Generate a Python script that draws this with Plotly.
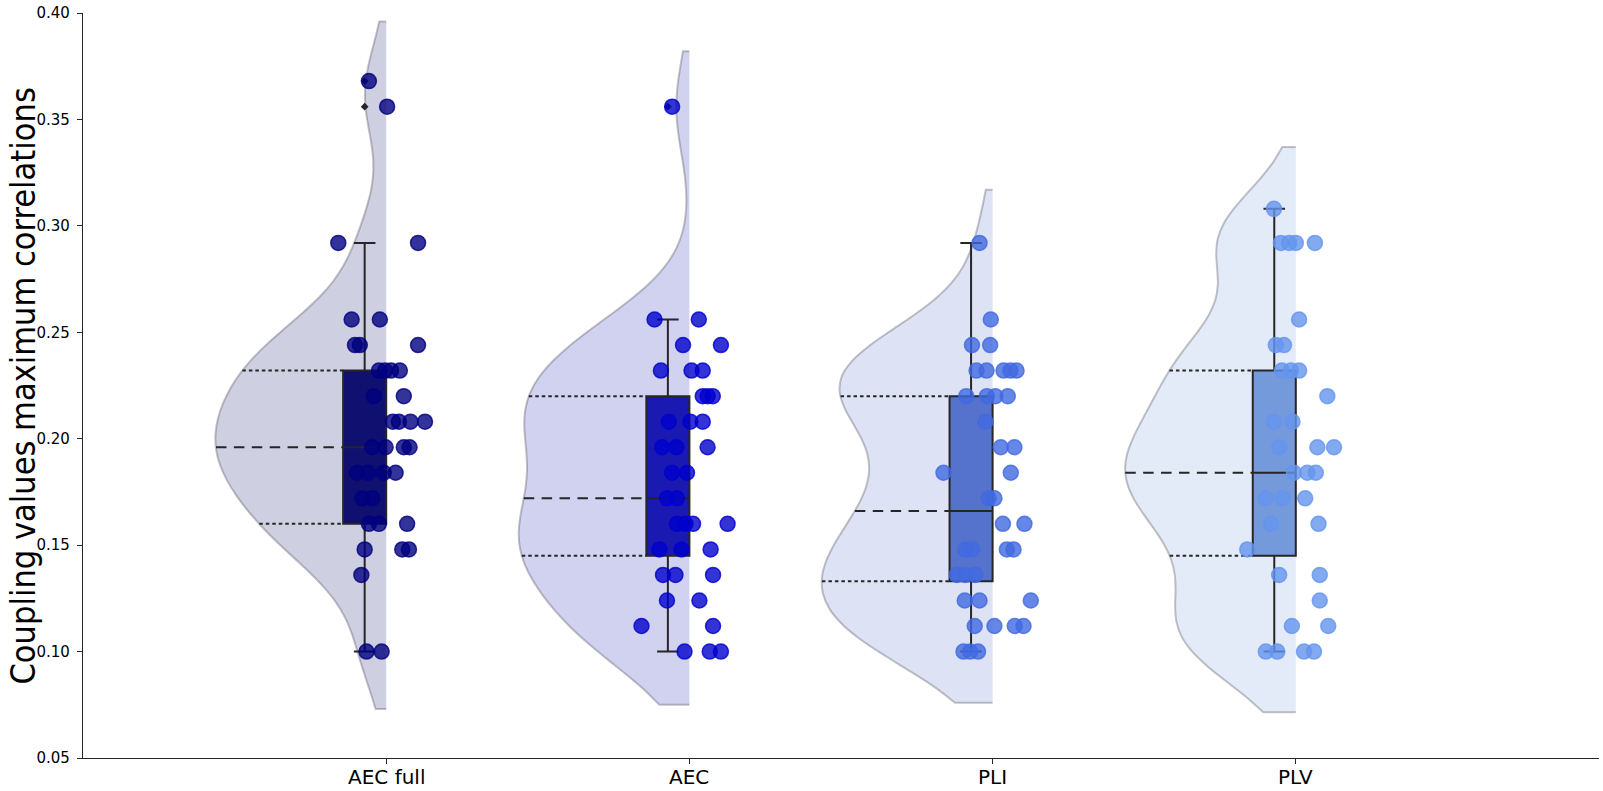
import numpy as np
import plotly.graph_objects as go

categories = ["AEC full", "AEC", "PLI", "PLV"]

aec_full_values = [0.368, 0.356, 0.292, 0.292, 0.256, 0.256, 0.244, 0.244, 0.244,
                   0.232, 0.232, 0.232, 0.232, 0.220, 0.220, 0.208, 0.208, 0.208, 0.208,
                   0.196, 0.196, 0.196, 0.196, 0.184, 0.184, 0.184, 0.184, 0.172, 0.172,
                   0.160, 0.160, 0.160, 0.148, 0.148, 0.148, 0.136, 0.100, 0.100]
aec_full_jitter = [-0.057, 0.003, -0.158, 0.105, -0.114, -0.021, -0.103, -0.087, 0.105,
                   -0.024, -0.004, 0.016, 0.045, -0.041, 0.058, 0.022, 0.042, 0.080, 0.128,
                   -0.046, -0.002, 0.058, 0.077, -0.096, -0.060, -0.008, 0.031, -0.079, -0.046,
                   -0.057, -0.024, 0.069, -0.071, 0.053, 0.075, -0.082, -0.065, -0.015]

aec_values = [0.356, 0.256, 0.256, 0.244, 0.244, 0.232, 0.232, 0.232, 0.220, 0.220, 0.220,
              0.208, 0.208, 0.208, 0.196, 0.196, 0.196, 0.184, 0.184, 0.172, 0.172,
              0.160, 0.160, 0.160, 0.160, 0.148, 0.148, 0.148, 0.136, 0.136, 0.136,
              0.124, 0.124, 0.112, 0.112, 0.100, 0.100, 0.100]
aec_jitter = [-0.057, -0.115, 0.031, -0.021, 0.104, -0.094, 0.007, 0.044, 0.044, 0.060, 0.077,
              -0.068, 0.003, 0.044, -0.090, -0.043, 0.060, -0.057, -0.008, -0.074, -0.041,
              -0.041, -0.013, 0.012, 0.126, -0.099, -0.026, 0.070, -0.087, -0.046, 0.078,
              -0.074, 0.033, -0.158, 0.078, -0.016, 0.067, 0.104]

pli_values = [0.292, 0.256, 0.244, 0.244, 0.232, 0.232, 0.232, 0.232, 0.232,
              0.220, 0.220, 0.220, 0.220, 0.208, 0.196, 0.196, 0.184, 0.184, 0.172, 0.172,
              0.160, 0.160, 0.148, 0.148, 0.148, 0.148, 0.136, 0.136, 0.136,
              0.124, 0.124, 0.124, 0.112, 0.112, 0.112, 0.112, 0.100, 0.100, 0.100]
pli_jitter = [-0.043, -0.006, -0.068, -0.008, -0.053, -0.020, 0.036, 0.059, 0.079,
              -0.087, -0.019, 0.009, 0.050, -0.024, 0.027, 0.072, -0.162, 0.060, -0.013, 0.006,
              0.034, 0.105, -0.090, -0.068, 0.047, 0.069, -0.118, -0.090, -0.057,
              -0.092, -0.043, 0.126, -0.059, 0.006, 0.073, 0.102, -0.096, -0.074, -0.048]

plv_values = [0.308, 0.292, 0.292, 0.292, 0.292, 0.256, 0.244, 0.244, 0.232, 0.232, 0.232,
              0.220, 0.208, 0.208, 0.196, 0.196, 0.196, 0.184, 0.184, 0.184,
              0.172, 0.172, 0.172, 0.160, 0.160, 0.148, 0.136, 0.136, 0.124, 0.112, 0.112,
              0.100, 0.100, 0.100, 0.100]
plv_jitter = [-0.072, -0.049, -0.022, 0.000, 0.063, 0.011, -0.066, -0.039, -0.046, -0.016, 0.011,
              0.104, -0.072, -0.011, -0.055, 0.071, 0.126, -0.006, 0.038, 0.066,
              -0.099, -0.044, 0.031, -0.082, 0.075, -0.160, -0.055, 0.079, 0.079, -0.013, 0.107,
              -0.099, -0.061, 0.027, 0.060]

# box statistics
box_q1 = [0.160, 0.145, 0.133, 0.145]
box_median = [0.196, 0.172, 0.166, 0.184]
box_q3 = [0.232, 0.220, 0.220, 0.232]
box_lo = [0.100, 0.100, 0.100, 0.100]
box_hi = [0.292, 0.256, 0.292, 0.308]
fliers = [[0.356, 0.368], [0.356], [], []]

# violin density settings
violin_bw = [0.022, 0.022, 0.022, 0.022]
violin_lo = [0.073, 0.075, 0.076, 0.0715]
violin_hi = [0.396, 0.382, 0.317, 0.337]

y_title = "Coupling values maximum correlations"

values = [aec_full_values, aec_values, pli_values, plv_values]
jitters = [aec_full_jitter, aec_jitter, pli_jitter, plv_jitter]

point_rgb = [(0, 0, 128), (0, 0, 205), (65, 105, 225), (100, 149, 237)]
desat_rgb = [(16, 16, 112), (26, 26, 179), (85, 115, 205), (117, 154, 220)]

HALF_W = 0.563
BOX_W = 0.142
DARK = "#262626"

fig = go.Figure()

# half violins
for i, vals in enumerate(values):
    r, g, b = desat_rgb[i]
    fig.add_trace(go.Violin(
        x0=i, y=vals, side="negative", width=2 * HALF_W, bandwidth=violin_bw[i],
        spanmode="manual", span=[violin_lo[i], violin_hi[i]], scalemode="width",
        points=False, box_visible=False, meanline_visible=False,
        fillcolor=f"rgba({r},{g},{b},0.2)",
        line=dict(color="rgba(60,60,70,0.3)", width=2),
        hoverinfo="skip", showlegend=False,
    ))

# boxes
for i in range(4):
    r, g, b = desat_rgb[i]
    fig.add_trace(go.Box(
        x=[i - BOX_W / 2], q1=[box_q1[i]], median=[box_median[i]], q3=[box_q3[i]],
        lowerfence=[box_lo[i]], upperfence=[box_hi[i]], width=BOX_W,
        whiskerwidth=0.5, boxpoints=False,
        fillcolor=f"rgb({r},{g},{b})", line=dict(color=DARK, width=2),
        hoverinfo="skip", showlegend=False,
    ))

# inner quartile lines of the violins
for i, vals in enumerate(values):
    v = np.asarray(vals)
    bw = violin_bw[i]
    grid = np.linspace(violin_lo[i], violin_hi[i], 400)
    kde = lambda t: np.exp(-0.5 * ((t[:, None] - v[None, :]) / bw) ** 2).sum(1)
    mx = kde(grid).max()
    for q, dash in [(box_q1[i], "3.5px,3px"), (box_median[i], "10.5px,7.4px"), (box_q3[i], "3.5px,3px")]:
        d = kde(np.array([q]))[0] / mx * HALF_W
        fig.add_trace(go.Scatter(
            x=[i - d, i - BOX_W], y=[q, q], mode="lines",
            line=dict(color=DARK, width=2, dash=dash),
            hoverinfo="skip", showlegend=False,
        ))

# fliers
for i in range(4):
    if fliers[i]:
        fig.add_trace(go.Scatter(
            x=[i - BOX_W / 2] * len(fliers[i]), y=fliers[i], mode="markers",
            marker=dict(symbol="diamond", size=6, color=DARK),
            hoverinfo="skip", showlegend=False,
        ))

# points
for i, vals in enumerate(values):
    r, g, b = point_rgb[i]
    fig.add_trace(go.Scatter(
        x=[i + j for j in jitters[i]], y=vals, mode="markers",
        marker=dict(size=15, color=f"rgba({r},{g},{b},0.8)",
                    line=dict(color=f"rgba({r},{g},{b},0.8)", width=1.5)),
        hoverinfo="skip", showlegend=False,
    ))

# category labels under the tick marks
for i, cat in enumerate(categories):
    fig.add_annotation(
        text=cat, xref="x", yref="paper", x=i, y=0, xanchor="center", yanchor="middle",
        yshift=-19, showarrow=False,
        font=dict(size=20, family="DejaVu Sans", color="black"),
    )

fig.add_annotation(
    text=y_title, textangle=-90, xref="paper", yref="paper", x=0, y=0.5,
    xanchor="center", yanchor="middle", xshift=-61, yshift=-1, showarrow=False,
    borderpad=0,
    font=dict(size=34, family="DejaVu Sans Condensed, DejaVu Sans", color="black"),
)

fig.update_layout(
    width=1603, height=791,
    margin=dict(l=83, r=4, t=9, b=33),
    plot_bgcolor="white", paper_bgcolor="white",
    boxmode="overlay", violinmode="overlay",
    font=dict(family="DejaVu Sans", color="black"),
    xaxis=dict(
        range=[-1, 4], tickmode="array", tickvals=[0, 1, 2, 3], showticklabels=False,
        showgrid=False, zeroline=False, showline=True, linecolor=DARK, linewidth=1.3,
        ticks="outside", ticklen=5, tickwidth=1, tickcolor=DARK,
    ),
    yaxis=dict(
        range=[0.05, 0.40], tickmode="linear", tick0=0.05, dtick=0.05, tickformat=".2f",
        showgrid=False, zeroline=False, showline=True, linecolor=DARK, linewidth=1.3,
        ticks="outside", ticklen=5, tickwidth=1, tickcolor=DARK, ticklabelstandoff=4,
        tickfont=dict(size=15, family="DejaVu Sans", color="black"),
    ),
)

fig.write_html(
    "out.html",
    config={"displayModeBar": False},
    post_script="document.body.style.margin='0';document.body.style.padding='0';"
                "document.body.style.overflow='hidden';",
)
